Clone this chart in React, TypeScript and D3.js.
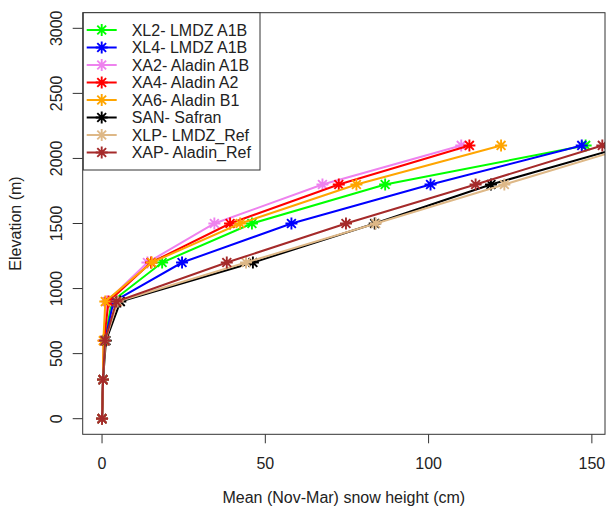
import React from "react";
import * as d3 from "d3";

const elevations = [0, 300, 600, 900, 1200, 1500, 1800, 2100];
const seriesNames = [
  "XL2- LMDZ A1B",
  "XL4- LMDZ A1B",
  "XA2- Aladin A1B",
  "XA4- Aladin A2",
  "XA6- Aladin B1",
  "SAN- Safran",
  "XLP- LMDZ_Ref",
  "XAP- Aladin_Ref",
];
const seriesColors = ["#00ff00", "#0000ff", "#ee82ee", "#ff0000", "#ffa500", "#000000", "#deb887", "#a52a2a"];
const XL2 = [0, 0.3, 0.8, 3.0, 18.4, 45.9, 86.7, 148.1];
const XL4 = [0, 0.3, 0.9, 3.5, 24.5, 58.0, 100.6, 146.9];
const XA2 = [0, 0.3, 0.5, 1.5, 13.9, 34.4, 67.5, 110.0];
const XA4 = [0, 0.3, 0.6, 2.0, 15.0, 39.2, 72.5, 112.5];
const XA6 = [0, 0.3, 0.4, 1.0, 15.2, 42.3, 77.9, 122.2];
const SAN = [0, 0.3, 1.2, 5.6, 46.2, 83.5, 119.1, 161.0];
const XLP = [0, 0.3, 1.0, 4.8, 44.1, 83.8, 123.2, 163.0];
const XAP = [0, 0.3, 0.9, 4.4, 38.2, 74.7, 114.4, 153.2];
const seriesValues = [XL2, XL4, XA2, XA4, XA6, SAN, XLP, XAP];
const xTicks = [0, 50, 100, 150];
const yTicks = [0, 500, 1000, 1500, 2000, 2500, 3000];
const yLimits = [0, 3000];
const xTitle = "Mean (Nov-Mar) snow height (cm)";
const yTitle = "Elevation (m)";

const W = 611;
const H = 507;
const L = 82.7, R = 605, T = 12.7, B = 434.3;
const FONT = "'Liberation Sans', Arial, Helvetica, sans-serif";
const TXT = "#222";

function Star({ x, y, color }: { x: number; y: number; color: string }) {
  const a = 6, b = 4.4;
  return (
    <path
      d={`M${x - a},${y}H${x + a}M${x},${y - a}V${y + a}M${x - b},${y - b}L${x + b},${y + b}M${x - b},${y + b}L${x + b},${y - b}`}
      stroke={color}
      strokeWidth={1.9}
      fill="none"
    />
  );
}

export default function App() {
  const ext = d3.extent(XL2) as [number, number];
  const r = ext[1] - ext[0];
  const x = d3.scaleLinear().domain([ext[0] - 0.04 * r, ext[1] + 0.04 * r]).range([L, R]);
  const yr = yLimits[1] - yLimits[0];
  const y = d3.scaleLinear().domain([yLimits[0] - 0.04 * yr, yLimits[1] + 0.04 * yr]).range([B, T]);
  const line = d3
    .line<number>()
    .x((d) => x(d))
    .y((_, i) => y(elevations[i]));

  const legTop = 30, legStep = 17.5;

  return (
    <svg
      width={W}
      height={H}
      style={{ position: "absolute", left: 0, top: 0, background: "#fff" }}
      fontFamily={FONT}
    >
      <rect x={0} y={0} width={W} height={H} fill="#fff" />
      <defs>
        <clipPath id="plotclip">
          <rect x={L} y={T} width={R - L} height={B - T} />
        </clipPath>
      </defs>
      <g clipPath="url(#plotclip)">
        {seriesValues.map((vals, si) => (
          <g key={si}>
            <path d={line(vals) || ""} stroke={seriesColors[si]} strokeWidth={2} fill="none" />
            {vals.map((v, i) => (
              <Star key={i} x={x(v)} y={y(elevations[i])} color={seriesColors[si]} />
            ))}
          </g>
        ))}
      </g>
      <rect x={L} y={T} width={R - L} height={B - T} fill="none" stroke="#333" strokeWidth={1} />
      {/* x axis */}
      {xTicks.map((t) => (
        <g key={t}>
          <line x1={x(t)} x2={x(t)} y1={B} y2={B + 9} stroke="#333" />
          <text x={x(t)} y={468.5} textAnchor="middle" fontSize={16} fill={TXT}>
            {t}
          </text>
        </g>
      ))}
      <text x={(L + R) / 2} y={503.3} textAnchor="middle" fontSize={16} fill={TXT}>
        {xTitle}
      </text>
      {/* y axis */}
      {yTicks.map((t) => (
        <g key={t}>
          <line x1={L - 10} x2={L} y1={y(t)} y2={y(t)} stroke="#333" />
          <text
            transform={`translate(61.7,${y(t)}) rotate(-90)`}
            textAnchor="middle"
            fontSize={16}
            fill={TXT}
          >
            {t}
          </text>
        </g>
      ))}
      <text
        transform={`translate(21,${(T + B) / 2}) rotate(-90)`}
        textAnchor="middle"
        fontSize={16}
        fill={TXT}
      >
        {yTitle}
      </text>
      {/* legend */}
      <rect x={83.3} y={12.7} width={260 - 83.3} height={170 - 12.7} fill="#fff" stroke="#333" strokeWidth={1} />
      {seriesNames.map((name, i) => {
        const cy = legTop + i * legStep;
        return (
          <g key={name}>
            <line x1={86.7} x2={116.7} y1={cy} y2={cy} stroke={seriesColors[i]} strokeWidth={2} />
            <Star x={101.7} y={cy} color={seriesColors[i]} />
            <text x={131.7} y={cy + 5.7} fontSize={16} fill={TXT}>
              {name}
            </text>
          </g>
        );
      })}
    </svg>
  );
}
